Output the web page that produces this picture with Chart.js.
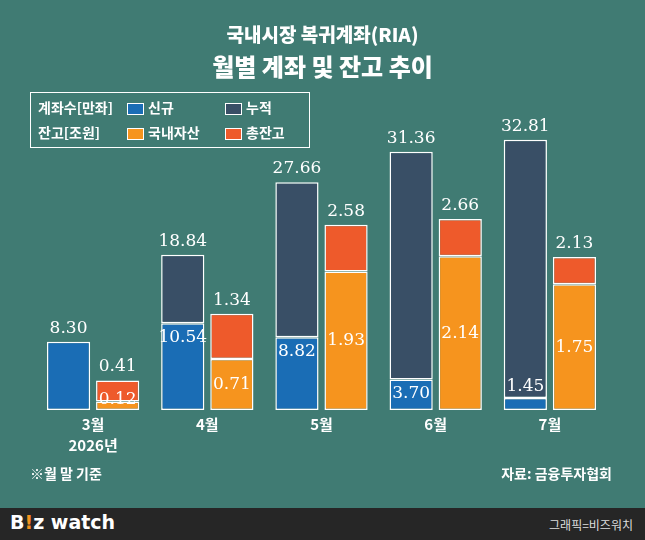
<!DOCTYPE html>
<html><head><meta charset="utf-8">
<script src="https://cdn.jsdelivr.net/npm/chart.js@4"></script>
<style>
body{margin:0;width:645px;height:540px;background:#407b73;position:relative;overflow:hidden;font-family:"Noto Sans CJK KR",sans-serif;color:#fff}
#c{position:absolute;left:0;top:0}
.t{position:absolute;left:0;width:645px;text-align:center;font-weight:900}
.legend{position:absolute;left:30px;top:92px;width:280px;height:56px;border:1.5px solid #fff;box-sizing:border-box;font-size:14px;font-weight:bold}
.sw{position:absolute;width:15px;height:10px;border:1px solid #fff;top:4px}
.lb{position:absolute;white-space:nowrap}
.note{position:absolute;top:463px;font-size:14px;font-weight:bold}
.foot{position:absolute;left:0;top:508px;width:645px;height:32px;background:#262626}
</style></head><body>
<canvas id="c" width="645" height="540"></canvas>
<div class="t" style="top:20px;font-size:19px">국내시장 복귀계좌(RIA)</div>
<div class="t" style="top:48px;font-size:24px">월별 계좌 및 잔고 추이</div>
<div class="legend">
  <div class="lb" style="left:7px;top:4px">계좌수[만좌]</div>
  <div class="sw" style="left:96px;top:10px;background:#1a6db5"></div><div class="lb" style="left:117px;top:4px">신규</div>
  <div class="sw" style="left:194px;top:10px;background:#394f66"></div><div class="lb" style="left:215px;top:4px">누적</div>
  <div class="lb" style="left:7px;top:29px">잔고[조원]</div>
  <div class="sw" style="left:96px;top:35px;background:#f6941e"></div><div class="lb" style="left:117px;top:29px">국내자산</div>
  <div class="sw" style="left:194px;top:35px;background:#ee5a2b"></div><div class="lb" style="left:215px;top:29px">총잔고</div>
</div>
<div class="note" style="left:30px">※월 말 기준</div>
<div class="note" style="right:33px">자료: 금융투자협회</div>
<div class="foot">
  <div style="position:absolute;left:10px;top:3px;font:bold 19px 'DejaVu Sans';color:#fff">B<span style="color:#f6941e">!</span>z watch</div>
  <div style="position:absolute;right:12px;top:8px;font-size:12px;color:#ddd">그래픽=비즈워치</div>
</div>
<script>
const months = ["3월", "4월", "5월", "6월", "7월"];
const accNew = [8.30, 10.54, 8.82, 3.70, 1.45];
const accTotal = [8.30, 18.84, 27.66, 31.36, 32.81];
const balDomestic = [0.12, 0.71, 1.93, 2.14, 1.75];
const balTotal = [0.41, 1.34, 2.58, 2.66, 2.13];

const accRest = accTotal.map((t, i) => +(t - accNew[i]).toFixed(2));
const balRest = balTotal.map((t, i) => +(t - balDomestic[i]).toFixed(2));

const base = { borderColor: "#fff", borderWidth: 1.5, borderSkipped: false, categoryPercentage: 0.86, barPercentage: 0.88 };
const numFont = "17px 'DejaVu Serif'";

const labelPlugin = {
  id: "labels",
  afterDatasetsDraw(chart) {
    const ctx = chart.ctx;
    ctx.save();
    ctx.fillStyle = "#fff";
    ctx.textAlign = "center";
    const m0 = chart.getDatasetMeta(0), m1 = chart.getDatasetMeta(1);
    const m2 = chart.getDatasetMeta(2), m3 = chart.getDatasetMeta(3);
    months.forEach((m, i) => {
      ctx.font = numFont;
      const a = m0.data[i], aTop = m1.data[i];
      ctx.textBaseline = "bottom";
      ctx.fillText(accTotal[i].toFixed(2), a.x, aTop.y - 5);
      if (accNew[i] !== accTotal[i]) {
        if (a.base - a.y < 30) { ctx.fillText(accNew[i].toFixed(2), a.x, a.y - 3); }
        else { ctx.textBaseline = "top"; ctx.fillText(accNew[i].toFixed(2), a.x, a.y + 6); }
      }
      const b = m2.data[i], bTop = m3.data[i];
      ctx.textBaseline = "bottom";
      ctx.fillText(balTotal[i].toFixed(2), b.x, bTop.y - 5);
      ctx.textBaseline = "middle";
      const cy = b.base - b.y < 25 ? b.base - 10 : (b.y + b.base) / 2;
      ctx.fillText(balDomestic[i].toFixed(2), b.x, cy);
      ctx.font = "bold 15px 'Noto Sans CJK KR'";
      ctx.fillText(m, (a.x + b.x) / 2, 424);
      if (i === 0) ctx.fillText("2026년", (a.x + b.x) / 2, 445);
    });
    ctx.restore();
  }
};

new Chart(document.getElementById("c"), {
  type: "bar",
  data: {
    labels: months,
    datasets: [
      { ...base, data: accNew, backgroundColor: "#1a6db5", stack: "acc", yAxisID: "y" },
      { ...base, data: accRest, backgroundColor: "#394f66", stack: "acc", yAxisID: "y" },
      { ...base, data: balDomestic, backgroundColor: "#f6941e", stack: "bal", yAxisID: "y2" },
      { ...base, data: balRest, backgroundColor: "#ee5a2b", stack: "bal", yAxisID: "y2" }
    ]
  },
  options: {
    responsive: false, animation: false,
    layout: { padding: { top: 130, bottom: 130, left: 36, right: 38 } },
    plugins: { legend: { display: false }, tooltip: { enabled: false } },
    scales: {
      x: { display: false, stacked: true },
      y: { display: false, stacked: true, min: 0, max: 34 },
      y2: { display: false, stacked: true, min: 0, max: 3.9 }
    }
  },
  plugins: [labelPlugin]
});
</script>
</body></html>
